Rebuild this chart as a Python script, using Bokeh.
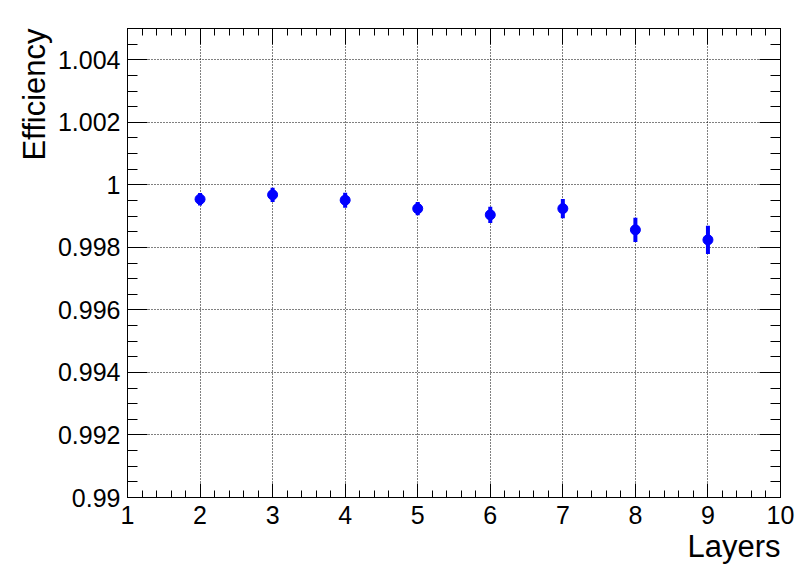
import math
from bokeh.plotting import figure
from bokeh.models import FixedTicker, LinearAxis, Range1d, ColumnDataSource, Title
from bokeh.embed import file_html
from bokeh.resources import INLINE

# ---- data ----
layers = [2, 3, 4, 5, 6, 7, 8, 9]
efficiency = [0.99954, 0.99968, 0.99951, 0.99924, 0.99904, 0.99924, 0.99856, 0.99824]
eff_err = [0.00020, 0.00023, 0.00024, 0.00021, 0.00026, 0.00031, 0.00039, 0.00045]

x_ticks = [1, 2, 3, 4, 5, 6, 7, 8, 9, 10]
x_tick_labels = ["1", "2", "3", "4", "5", "6", "7", "8", "9", "10"]
y_ticks = [0.99, 0.992, 0.994, 0.996, 0.998, 1.0, 1.002, 1.004]
y_tick_labels = ["0.99", "0.992", "0.994", "0.996", "0.998", "1", "1.002", "1.004"]

x_title = "Layers"
y_title = "Efficiency"

X_MIN, X_MAX = 1, 10
Y_MIN, Y_MAX = 0.99, 1.005

FONT = "Liberation Sans"
BLUE = "#0000ff"

x_minor = [round(X_MIN + 0.2 * i, 4) for i in range(int(round((X_MAX - X_MIN) / 0.2)) + 1)]
y_minor = [round(Y_MIN + 0.0005 * i, 6) for i in range(int(round((Y_MAX - Y_MIN) / 0.0005)) + 1)]

src = ColumnDataSource(dict(
    x=layers,
    y=efficiency,
    lo=[v - e for v, e in zip(efficiency, eff_err)],
    hi=[v + e for v, e in zip(efficiency, eff_err)],
))

p = figure(width=796, height=572, output_backend="svg", toolbar_location=None,
           x_range=Range1d(X_MIN, X_MAX), y_range=Range1d(Y_MIN, Y_MAX),
           min_border_left=127, min_border_right=16, min_border_top=28, min_border_bottom=75,
           background_fill_color="white", border_fill_color="white")
p.outline_line_color = "black"
p.outline_line_width = 1

xt = FixedTicker(ticks=x_ticks, minor_ticks=x_minor)
yt = FixedTicker(ticks=y_ticks, minor_ticks=y_minor)

# bottom axis
bx = p.xaxis[0]
bx.ticker = xt
bx.major_label_overrides = {t: s for t, s in zip(x_ticks, x_tick_labels)}
bx.major_label_text_font = FONT
bx.major_label_text_font_size = "25px"
bx.major_label_text_color = "black"
bx.major_label_standoff = 8
bx.major_tick_in = 14
bx.major_tick_out = 0
bx.minor_tick_in = 7
bx.minor_tick_out = 0
bx.axis_line_color = "black"
bx.major_tick_line_color = "black"
bx.minor_tick_line_color = "black"

# left axis
ly = p.yaxis[0]
ly.ticker = yt
ly.major_label_overrides = {t: s for t, s in zip(y_ticks, y_tick_labels)}
ly.major_label_text_font = FONT
ly.major_label_text_font_size = "25px"
ly.major_label_text_color = "black"
ly.major_label_standoff = 7
ly.major_tick_in = 20
ly.major_tick_out = 0
ly.minor_tick_in = 10
ly.minor_tick_out = 0
ly.axis_line_color = "black"
ly.major_tick_line_color = "black"
ly.minor_tick_line_color = "black"

# axis titles, ROOT style (at the far end of each axis)
p.add_layout(Title(text=x_title, align="right", text_font=FONT, text_font_size="31px",
                   text_font_style="normal", text_color="black", standoff=0), "below")
p.add_layout(Title(text=y_title, align="right", text_font=FONT, text_font_size="31px",
                   text_font_style="normal", text_color="black", standoff=5), "left")

# top and right axes (ticks only)
tx = LinearAxis(ticker=FixedTicker(ticks=x_ticks, minor_ticks=x_minor),
                major_label_overrides={t: "" for t in x_ticks},
                major_label_text_font_size="1px", major_tick_in=16, major_tick_out=0,
                minor_tick_in=7, minor_tick_out=0, major_label_standoff=0,
                axis_line_color="black", major_tick_line_color="black", minor_tick_line_color="black")
p.add_layout(tx, "above")
ry = LinearAxis(ticker=FixedTicker(ticks=y_ticks, minor_ticks=y_minor),
                major_label_overrides={t: "" for t in y_ticks},
                major_label_text_font_size="1px", major_tick_in=21, major_tick_out=0,
                minor_tick_in=10, minor_tick_out=0, major_label_standoff=0,
                axis_line_color="black", major_tick_line_color="black", minor_tick_line_color="black")
p.add_layout(ry, "right")

# grid
p.xgrid.ticker = FixedTicker(ticks=x_ticks)
p.ygrid.ticker = FixedTicker(ticks=y_ticks)
for g in (p.xgrid[0], p.ygrid[0]):
    g.grid_line_color = "black"
    g.grid_line_alpha = 1.0
    g.grid_line_dash = "1 2"
    g.grid_line_width = 1

# data
p.segment(x0="x", y0="lo", x1="x", y1="hi", source=src, line_color=BLUE, line_width=4)
p.scatter(x="x", y="y", source=src, size=10, fill_color=BLUE, line_color=BLUE)

open("out.html", "w").write(file_html(p, INLINE))
